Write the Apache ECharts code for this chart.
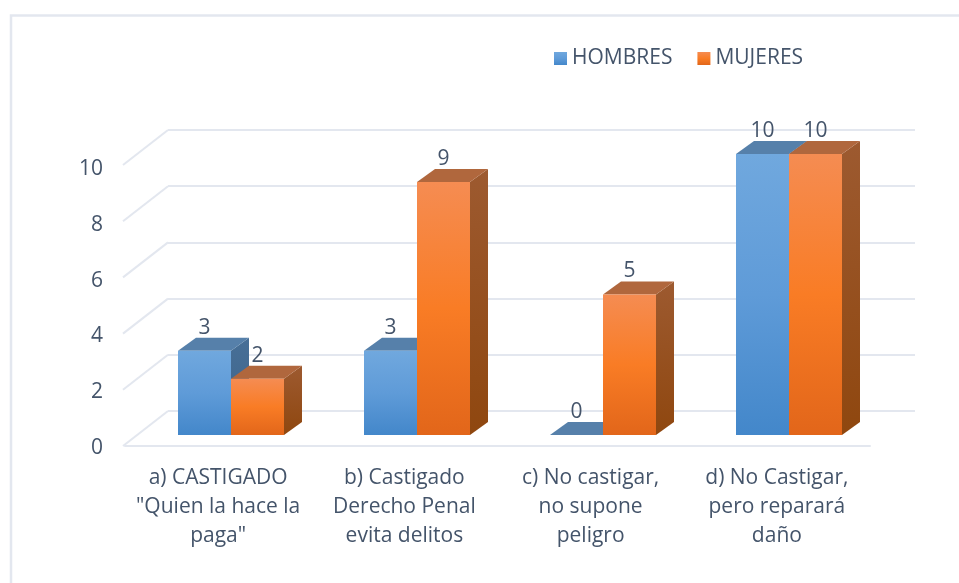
<!DOCTYPE html>
<html>
<head>
<meta charset="utf-8">
<style>html,body{margin:0;padding:0;background:#fff}#c{width:959px;height:583px}</style>
<script src="https://cdn.jsdelivr.net/npm/echarts@6/dist/echarts.min.js"></script>
</head>
<body>
<div id="c"></div>
<script>
const categories = ['a) CASTIGADO\n"Quien la hace la\npaga"', 'b) Castigado\nDerecho Penal\nevita delitos', 'c) No castigar,\nno supone\npeligro', 'd) No Castigar,\npero reparará\ndaño'];
const hombres = [3, 3, 0, 10];
const mujeres = [2, 9, 5, 10];
const tickValues = [0, 2, 4, 6, 8, 10];

const TEXT = '#44546a', GRID = '#e3e7ef', FONT = '"Open Sans", sans-serif';
const vGrad = stops => ({type:'linear',x:0,y:0,x2:0,y2:1,colorStops:stops.map((c,i)=>({offset:i/(stops.length-1),color:c}))});
const palette = {
  HOMBRES:{front:vGrad(['#70a8de','#5f9bd8','#4387ca']),top:'#5680aa',side:vGrad(['#476f97','#3c6288'])},
  MUJERES:{front:vGrad(['#f58c52','#f97c25','#e2661a']),top:'#b0673d',side:vGrad(['#9d5a30','#8f470f'])}
};
const DX = 18, DY = 13, BAR_RATIO = 53/186;

function barRenderer(name, side){
  const p = palette[name];
  return function(params, api){
    const cat = api.value(0), val = api.value(1);
    const c = api.coord([cat, val]), base = api.coord([cat, 0]);
    const w = api.size([1,0])[0]*BAR_RATIO;
    const x0 = side<0 ? c[0]-w : c[0], x1 = x0+w, yt = c[1], yb = base[1];
    const kids = [];
    if (yb-yt>0) kids.push({type:'polygon',shape:{points:[[x1,yt],[x1+DX,yt-DY],[x1+DX,yb-DY],[x1,yb]]},style:{fill:p.side}});
    kids.push({type:'polygon',shape:{points:[[x0,yt],[x1,yt],[x1+DX,yt-DY],[x0+DX,yt-DY]]},style:{fill:p.top}});
    if (yb-yt>0) kids.push({type:'rect',shape:{x:x0,y:yt,width:w,height:yb-yt},style:{fill:p.front}});
    kids.push({type:'text',style:{text:String(val),x:(x0+x1)/2,y:yt-23,align:'center',verticalAlign:'middle',fill:TEXT,font:'21px '+FONT},z2:10});
    return {type:'group',children:kids};
  };
}
const chart = echarts.init(document.getElementById('c'), null, {renderer:'canvas'});
chart.setOption({
  animation:false,
  backgroundColor:'#fff',
  graphic:[
    {type:'polyline',shape:{points:[[11,583],[11,15.5],[959,15.5]]},style:{stroke:GRID,lineWidth:2.5,fill:null},silent:true}
  ],
  legend:{left:549,top:43,itemWidth:13,itemHeight:13,itemGap:25,icon:'rect',selectedMode:false,
    textStyle:{color:TEXT,fontSize:21,fontFamily:FONT},
    data:['HOMBRES','MUJERES']},
  grid:[
    {left:168,top:130,width:747,height:281},
    {left:125,top:165,width:745,height:281},
    {left:138,top:154,width:744,height:281},
    {left:125,top:169,width:745,height:279}
  ],
  xAxis:[
    {gridIndex:0,type:'category',data:categories,show:false},
    {gridIndex:1,type:'category',data:categories,axisTick:{show:false},
      axisLine:{lineStyle:{color:GRID,width:2}},
      axisLabel:{color:TEXT,fontSize:21,fontFamily:FONT,lineHeight:29,margin:18,interval:0}},
    {gridIndex:2,type:'category',data:categories,show:false},
    {gridIndex:3,type:'category',data:categories,show:false}
  ],
  yAxis:[
    {gridIndex:0,type:'value',min:0,max:10,interval:2,axisLine:{show:false},axisTick:{show:false},axisLabel:{show:false},
      splitLine:{show:true,lineStyle:{color:GRID,width:2}}},
    {gridIndex:1,type:'value',min:0,max:10,interval:2,show:false,splitLine:{show:false}},
    {gridIndex:2,type:'value',min:0,max:10,interval:2,show:false,splitLine:{show:false}},
    {gridIndex:3,type:'value',min:0,max:10,interval:2,axisLine:{show:false},axisTick:{show:false},splitLine:{show:false},
      axisLabel:{color:TEXT,fontSize:21,fontFamily:FONT,margin:22}}
  ],
  series:[
    {type:'custom',name:'walls',xAxisIndex:0,yAxisIndex:0,silent:true,clip:false,z:1,
      data:tickValues.map(v=>[0,v]),
      renderItem(params,api){
        const c = api.coord([0,api.value(1)]);
        const x = c[0]-api.size([1,0])[0]/2;
        return {type:'line',shape:{x1:x,y1:c[1],x2:x-45,y2:c[1]+35},style:{stroke:GRID,lineWidth:2}};
      }},
    {type:'custom',name:'HOMBRES',xAxisIndex:2,yAxisIndex:2,clip:false,z:3,
      itemStyle:{color:palette.HOMBRES.front},
      data:hombres.map((v,i)=>[i,v]),renderItem:barRenderer('HOMBRES',-1)},
    {type:'custom',name:'MUJERES',xAxisIndex:2,yAxisIndex:2,clip:false,z:4,
      itemStyle:{color:palette.MUJERES.front},
      data:mujeres.map((v,i)=>[i,v]),renderItem:barRenderer('MUJERES',1)}
  ]
});
</script>
</body>
</html>
